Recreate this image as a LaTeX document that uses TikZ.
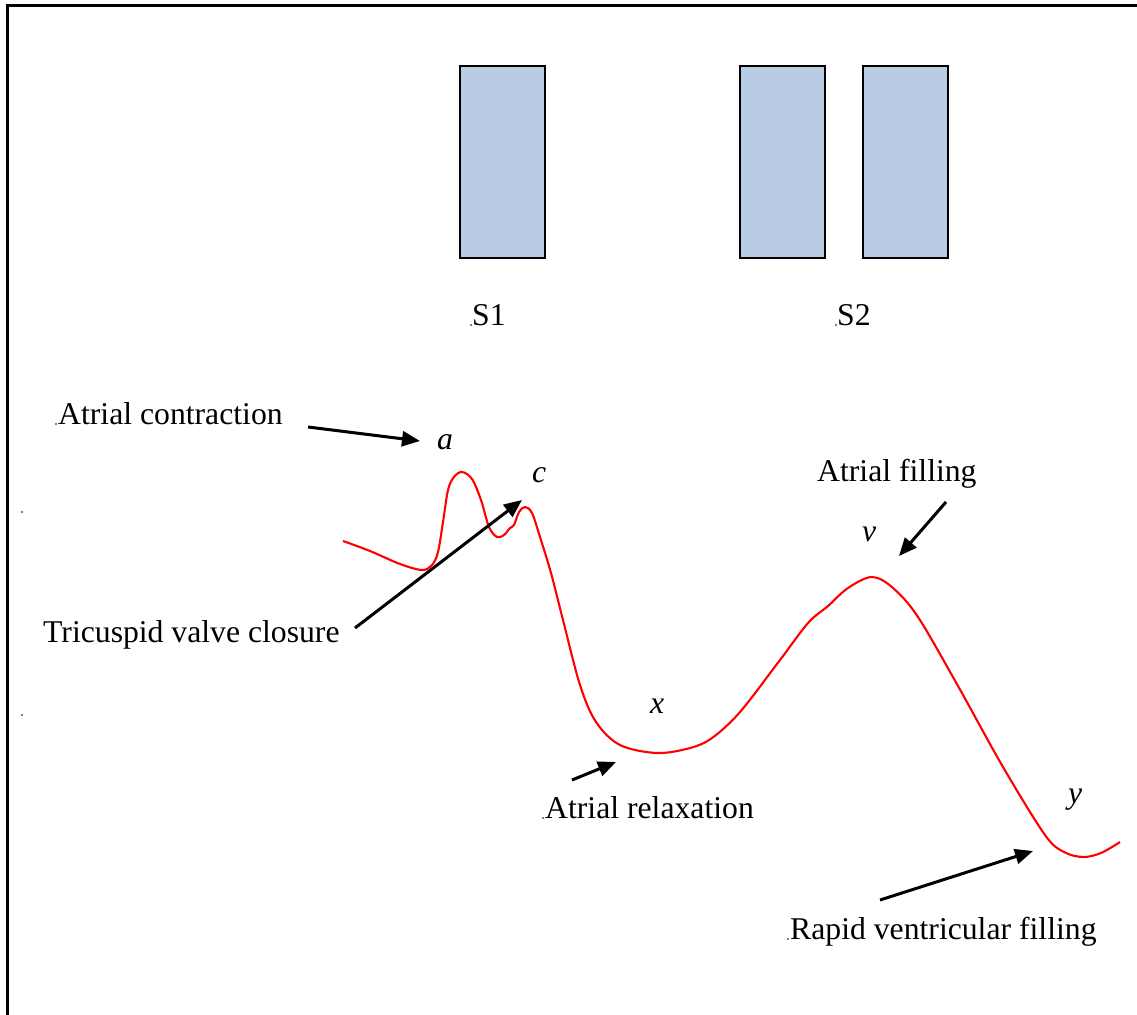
\documentclass[tikz,border=0pt]{standalone}
\usepackage{fontspec}
\setmainfont{Liberation Serif}
\usetikzlibrary{arrows.meta}
\definecolor{barblue}{HTML}{B8CCE4}
\begin{document}
\begin{tikzpicture}[x=1pt,y=-1pt,
  lbl/.style={anchor=base west, inner sep=0pt, font=\fontsize{31.7}{36}\selectfont},
  ilbl/.style={anchor=base west, inner sep=0pt, font=\fontsize{31.7}{36}\selectfont\itshape},
  arr/.style={line width=3pt, -{Triangle[length=18pt,width=15pt]}},
  bar/.style={draw=black, line width=2.4pt, fill=barblue, anchor=north west, inner sep=0pt},
  wave/.style={red, line width=2.1pt},
  speck/.style={fill=black, circle, inner sep=0pt, minimum size=1.8pt}]
\useasboundingbox (0,0) rectangle (1137,1014);
\clip (0,0) rectangle (1137,1014);
% frame
\draw[line width=3pt] (7,1030) -- (7,6) -- (1150,6);
% bars
\node[bar, minimum width=85pt, minimum height=192pt] (b1) at (459,65) {};
\node[bar, minimum width=85pt, minimum height=192pt] (b2) at (739,65) {};
\node[bar, minimum width=85pt, minimum height=192pt] (b3) at (861.5,65) {};
% labels
\node[lbl] (s1) at (472,325) {S1};
\node[lbl] (s2) at (837,325) {S2};
\node[lbl] (tac) at (58,424) {Atrial contraction};
\node[lbl] (ttv) at (43,642) {Tricuspid valve closure};
\node[lbl] (taf) at (817,481) {Atrial filling};
\node[lbl] (tar) at (545,818) {Atrial relaxation};
\node[lbl] (trv) at (790,939) {Rapid ventricular filling};
\node[ilbl] (la) at (437,449) {a};
\node[ilbl] (lc) at (532,482) {c};
\node[ilbl] (lv) at (862,541) {v};
\node[ilbl] (lx) at (650,713) {x};
\node[ilbl] (ly) at (1068,803) {y};
% specks
\node[speck] (d1) at (22,512) {};
\node[speck] (d2) at (22,715) {};
\node[speck] (d3) at (56,424) {};
\node[speck] (d4) at (471,325) {};
\node[speck] (d5) at (836,325) {};
\node[speck] (d6) at (543,818) {};
\node[speck] (d7) at (788,939) {};
% arrow coordinates
\coordinate (acS) at (308,427); \coordinate (acE) at (420,441);
\coordinate (tvS) at (355,628); \coordinate (tvE) at (522,500);
\coordinate (afS) at (946,502); \coordinate (afE) at (899,556);
\coordinate (arS) at (572,780); \coordinate (arE) at (616,762);
\coordinate (rvS) at (880,900); \coordinate (rvE) at (1033,851);
% wave
\draw[wave] plot[smooth, tension=0.55] coordinates {
 (343,541) (370,551) (400,564) (422,570) (432,565) (438,552) (443,522) (448,490) (454,477) (462,472)
 (472,479) (481,500) (489,527) (497,537) (504,535) (510,528) (514,525) (519,512) (525,507)
 (532,513) (540,537) (551,573) (563,620) (580,685) (596,722) (620,745) (657,753) (690,748)
 (712,738) (740,712) (780,660) (808,623) (828,606) (848,588) (872,577) (893,588) (918,617)
 (958,686) (1003,767) (1045,835) (1064,852) (1083,857) (1101,853) (1120,842)};
% arrows
\draw[arr] (acS) -- (acE);
\draw[arr] (tvS) -- (tvE);
\draw[arr] (afS) -- (afE);
\draw[arr] (arS) -- (arE);
\draw[arr] (rvS) -- (rvE);
\end{tikzpicture}
\end{document}
